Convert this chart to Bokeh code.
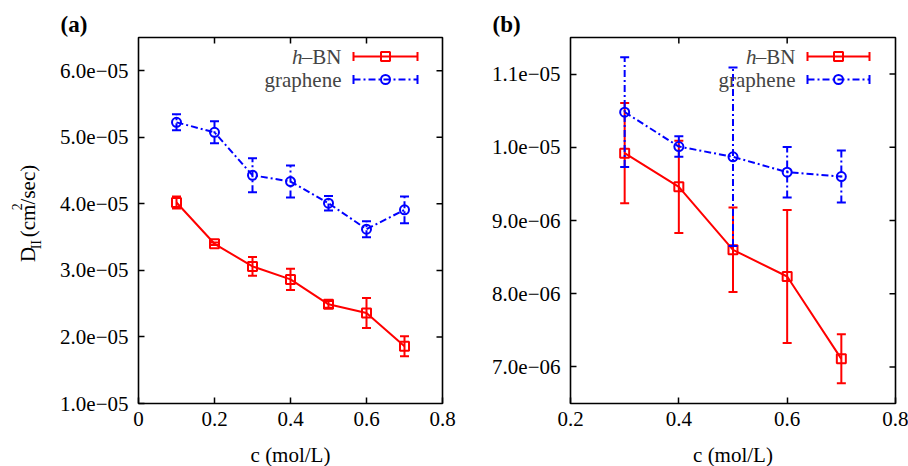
from math import pi
from bokeh.plotting import figure
from bokeh.layouts import row, column
from bokeh.models import Range1d, FixedTicker, Label, Title
from bokeh.core.properties import value
from bokeh.embed import file_html
from bokeh.resources import INLINE

# ---------------- data ----------------
# Panel (a)
c_a = [0.1, 0.2, 0.3, 0.4, 0.5, 0.6, 0.7]
hbn_a = [4.02e-5, 3.40e-5, 3.06e-5, 2.865e-5, 2.49e-5, 2.36e-5, 1.86e-5]
hbn_a_err = [0.09e-5, 0.02e-5, 0.14e-5, 0.16e-5, 0.05e-5, 0.225e-5, 0.15e-5]
gra_a = [5.225e-5, 5.075e-5, 4.43e-5, 4.335e-5, 4.01e-5, 3.62e-5, 3.91e-5]
gra_a_err = [0.12e-5, 0.165e-5, 0.255e-5, 0.24e-5, 0.11e-5, 0.12e-5, 0.2e-5]

# Panel (b)
c_b = [0.3, 0.4, 0.5, 0.6, 0.7]
hbn_b = [9.92e-6, 9.46e-6, 8.60e-6, 8.235e-6, 7.11e-6]
hbn_b_err = [0.685e-6, 0.63e-6, 0.577e-6, 0.91e-6, 0.335e-6]
gra_b = [1.048e-5, 1.001e-5, 9.87e-6, 9.66e-6, 9.60e-6]
gra_b_err = [0.75e-6, 0.14e-6, 1.22e-6, 0.345e-6, 0.355e-6]

# ticks
xticks_a = [0, 0.2, 0.4, 0.6, 0.8]
xlabels_a = ["0", "0.2", "0.4", "0.6", "0.8"]
yticks_a = [1e-5, 2e-5, 3e-5, 4e-5, 5e-5, 6e-5]
ylabels_a = ["1.0e\u221205", "2.0e\u221205", "3.0e\u221205", "4.0e\u221205", "5.0e\u221205", "6.0e\u221205"]
xticks_b = [0.2, 0.4, 0.6, 0.8]
xlabels_b = ["0.2", "0.4", "0.6", "0.8"]
yticks_b = [7e-6, 8e-6, 9e-6, 1e-5, 1.1e-5]
ylabels_b = ["7.0e\u221206", "8.0e\u221206", "9.0e\u221206", "1.0e\u221205", "1.1e\u221205"]

series_names = ["h", "\u2013BN", "graphene"]
x_title = "c (mol/L)"
# y title pieces: D_II (cm^2/sec)
y_title_parts = ["D", "II", "(cm", "2", "/sec)"]

# ---------------- style ----------------
FONT = "Liberation Serif"
RED = "#ff0000"
BLUE = "#0000ff"
DASH = "7 3 2 3"
W, H = 908, 466
XLAB_H = 24            # bottom strip for the x titles
PH = H - XLAB_H        # panel height
TOP, BOTTOM = 37, PH - 403
STRIP = 50             # left strip for the y title


def make_panel(width, left, right, xr, yr, xt, xtl, yt, ytl,
               c, h, he, g, ge, leg, panel_label):
    p = figure(width=width, height=PH, x_range=Range1d(*xr), y_range=Range1d(*yr),
               output_backend="svg", toolbar_location=None,
               min_border_left=left, min_border_right=right,
               min_border_top=TOP, min_border_bottom=BOTTOM)
    p.grid.visible = False
    p.outline_line_color = "black"
    p.outline_line_width = 1.6
    p.background_fill_color = "white"
    p.border_fill_color = "white"

    p.xaxis.ticker = FixedTicker(ticks=xt)
    p.yaxis.ticker = FixedTicker(ticks=yt)
    p.xaxis.major_label_overrides = {v: s for v, s in zip(xt, xtl)}
    p.yaxis.major_label_overrides = {v: s for v, s in zip(yt, ytl)}
    for ax in (p.xaxis[0], p.yaxis[0]):
        ax.axis_line_color = None
        ax.major_tick_in = 6
        ax.major_tick_out = 0
        ax.major_tick_line_width = 1.5
        ax.minor_tick_line_color = None
        ax.major_label_text_font = FONT
        ax.major_label_text_font_size = "21px"
        ax.major_label_text_color = "black"
    p.xaxis.major_label_standoff = 8
    p.yaxis.major_label_standoff = 10

    # mirrored inward ticks on top and right (dash markers clipped by the frame)
    top_x = [v for v in xt if xr[0] < v < xr[1]]
    right_y = [v for v in yt if yr[0] < v < yr[1]]
    p.scatter(top_x, [yr[1]] * len(top_x), marker="dash", angle=pi / 2, size=12,
              line_color="black", line_width=1.5)
    p.scatter([xr[1]] * len(right_y), right_y, marker="dash", size=12,
              line_color="black", line_width=1.5)

    # h-BN
    p.line(c, h, line_color=RED, line_width=2)
    lo = [v - e for v, e in zip(h, he)]
    hi = [v + e for v, e in zip(h, he)]
    p.segment(x0=c, y0=lo, x1=c, y1=hi, line_color=RED, line_width=2)
    p.scatter(c, lo, marker="dash", size=9, line_color=RED, line_width=2)
    p.scatter(c, hi, marker="dash", size=9, line_color=RED, line_width=2)
    p.scatter(c, h, marker="square", size=9, line_color=RED, line_width=2, fill_color=None)

    # graphene
    p.line(c, g, line_color=BLUE, line_width=2, line_dash=DASH)
    lo = [v - e for v, e in zip(g, ge)]
    hi = [v + e for v, e in zip(g, ge)]
    p.segment(x0=c, y0=lo, x1=c, y1=hi, line_color=BLUE, line_width=2, line_dash=DASH)
    p.scatter(c, lo, marker="dash", size=9, line_color=BLUE, line_width=2)
    p.scatter(c, hi, marker="dash", size=9, line_color=BLUE, line_width=2)
    p.scatter(c, g, marker="circle", size=9, line_color=BLUE, line_width=2, fill_color=None)

    # pixel (relative to frame) -> data helpers
    fw = width - left - right
    fh = PH - TOP - BOTTOM

    def dx(px):
        return xr[0] + px / fw * (xr[1] - xr[0])

    def dy(py):
        return yr[1] - py / fh * (yr[1] - yr[0])

    text_r, lx0, lx1, rows = leg
    styles = [(RED, None, "square"), (BLUE, DASH, "circle")]
    for (col, dash, mk), ry in zip(styles, rows):
        kw = dict(line_color=col, line_width=2)
        if dash:
            kw["line_dash"] = dash
        p.line([dx(lx0), dx(lx1)], [dy(ry), dy(ry)], **kw)
        p.scatter([dx(lx0), dx(lx1)], [dy(ry), dy(ry)], marker="dash", angle=pi / 2,
                  size=9, line_color=col, line_width=2)
        p.scatter([dx((lx0 + lx1) / 2)], [dy(ry)], marker=mk, size=9,
                  line_color=col, line_width=2, fill_color=None)
    p.add_layout(Label(x=dx(text_r - 39), y=dy(rows[0]), text=series_names[0],
                       text_font=FONT, text_font_size="21px", text_font_style="italic",
                       text_align="right", text_baseline="middle"))
    p.add_layout(Label(x=dx(text_r), y=dy(rows[0]), text=series_names[1],
                       text_font=FONT, text_font_size="21px",
                       text_align="right", text_baseline="middle"))
    p.add_layout(Label(x=dx(text_r), y=dy(rows[1]), text=series_names[2],
                       text_font=FONT, text_font_size="21px",
                       text_align="right", text_baseline="middle"))

    # panel label as a title above the frame, shifted left
    p.add_layout(Title(text=panel_label, align="left", offset=-78, standoff=2,
                       vertical_align="bottom", text_font=FONT, text_font_size="23px",
                       text_font_style="bold", text_color="black"), "above")
    return p


def blank(w, h):
    # bare plot (no axes, no title) whose data units are pixels: x from left, y from bottom
    p = figure(width=w, height=h, x_range=Range1d(0, w), y_range=Range1d(0, h),
               output_backend="svg", toolbar_location=None, title=None,
               x_axis_location=None, y_axis_location=None,
               min_border_left=0, min_border_right=0, min_border_top=0, min_border_bottom=0)
    p.grid.visible = False
    p.outline_line_color = None
    p.background_fill_color = "white"
    p.border_fill_color = "white"
    return p


# frame: left edge 138 / 570 px, top 37, bottom 403 in the page
pa = make_panel(460 - STRIP, 138 - STRIP, 18, (0, 0.8), (1e-5, 6.5e-5),
                xticks_a, xlabels_a, yticks_a, ylabels_a,
                c_a, hbn_a, hbn_a_err, gra_a, gra_a_err,
                (341 - 138, 353 - 138, 417 - 138, (56 - 37, 79 - 37)), "(a)")
pb = make_panel(448, 110, 13, (0.2, 0.8), (6.5e-6, 1.15e-5),
                xticks_b, xlabels_b, yticks_b, ylabels_b,
                c_b, hbn_b, hbn_b_err, gra_b, gra_b_err,
                (795 - 570, 807 - 570, 869 - 570, (56 - 37, 79 - 37)), "(b)")

# left strip: y title of panel (a), drawn as rotated text pieces (centred on their lines)
strip = blank(STRIP, PH)
ylab_fs = [21, 14, 21, 14, 21]
ylab_mid = [27, 36, 27, 16, 27]
ylab_adv = [15.2, 9.3 + 5.2, 32.7, 7.0, 39.6]
pos = 271
for txt, fs, mx, adv in zip(y_title_parts, ylab_fs, ylab_mid, ylab_adv):
    strip.text(x=[mx], y=[PH - pos], text=[txt], angle=pi / 2,
               text_font=value(FONT), text_font_size=value(f"{fs}px"),
               text_align="left", text_baseline="middle", text_color="black")
    pos -= adv

# bottom strip: x titles centred under each frame
xstrip = blank(W, XLAB_H)
xstrip.text(x=[290, 732.5], y=[12, 12], text=[x_title, x_title],
            text_font=value(FONT), text_font_size=value("21px"),
            text_align="center", text_baseline="middle", text_color="black")

layout = column(row(strip, pa, pb), xstrip)
open("out.html", "w").write(file_html(layout, INLINE))
